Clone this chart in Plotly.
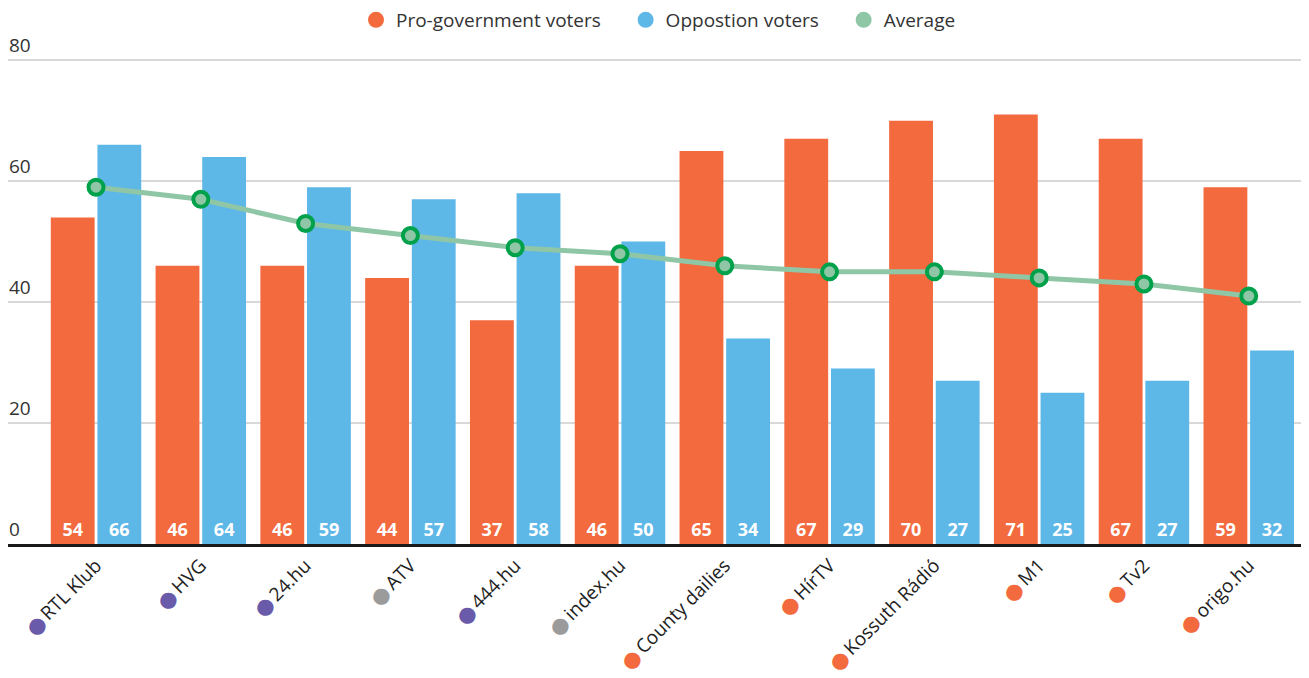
import plotly.graph_objects as go

categories = ["RTL Klub", "HVG", "24.hu", "ATV", "444.hu", "index.hu",
              "County dailies", "HírTV", "Kossuth Rádió", "M1", "Tv2", "origo.hu"]
dot_colors = ["#6A5BAA", "#6A5BAA", "#6A5BAA", "#9B9B9B", "#6A5BAA", "#9B9B9B",
              "#F26A3D", "#F26A3D", "#F26A3D", "#F26A3D", "#F26A3D", "#F26A3D"]
pro_gov = [54, 46, 46, 44, 37, 46, 65, 67, 70, 71, 67, 59]
opposition = [66, 64, 59, 57, 58, 50, 34, 29, 27, 25, 27, 32]
average = [59, 57, 53, 51, 49, 48, 46, 45, 45, 44, 43, 41]
y_ticks = [0, 20, 40, 60, 80]

ORANGE = "#F26A3D"
BLUE = "#5DB7E7"
GREEN_LINE = "#8FC7A6"
GREEN_DARK = "#00A14B"
FONT = "Open Sans"

ticktext = [f'<span style="color:{c};font-size:16px">⬤</span>\u2009{n}'
            for n, c in zip(categories, dot_colors)]

fig = go.Figure()
fig.add_trace(go.Bar(
    x=categories, y=pro_gov, marker_color=ORANGE, marker_line_width=0,
    text=pro_gov, textposition="inside", insidetextanchor="start", textangle=0,
    textfont=dict(color="white", size=18, family=FONT, weight="bold"),
    showlegend=False))
fig.add_trace(go.Bar(
    x=categories, y=opposition, marker_color=BLUE, marker_line_width=0,
    text=opposition, textposition="inside", insidetextanchor="start", textangle=0,
    textfont=dict(color="white", size=18, family=FONT, weight="bold"),
    showlegend=False))
fig.add_trace(go.Scatter(
    x=categories, y=average, mode="lines+markers",
    line=dict(color=GREEN_LINE, width=5),
    marker=dict(size=15, color=GREEN_LINE, line=dict(color=GREEN_DARK, width=4)),
    showlegend=False))

# legend entries (circle icons)
NB = "\u00a0"
for name, col in [("Pro-government voters" + NB * 4, ORANGE),
                  ("Oppostion voters" + NB * 4, BLUE),
                  ("Average", GREEN_LINE)]:
    fig.add_trace(go.Scatter(x=[None], y=[None], mode="markers", name=name,
                             marker=dict(size=21, color=col, symbol="circle")))

# y tick labels placed above their gridlines at the left edge
for v in y_ticks:
    fig.add_annotation(x=0, xref="paper", xanchor="left", y=v, yref="y",
                       yanchor="bottom", text=str(v), showarrow=False,
                       font=dict(size=19, color="#333", family=FONT), xshift=-1, yshift=0)

W, H = 1301, 670  # page body has an 8px margin
fig.update_layout(
    width=W, height=H,
    margin=dict(l=0, r=0, t=28, b=134, autoexpand=False),
    paper_bgcolor="white", plot_bgcolor="white",
    barmode="group", bargap=0.11, bargroupgap=0.06,
    font=dict(family=FONT, size=18, color="#222"),
    legend=dict(orientation="h", x=0.5, xanchor="center", y=1 - 12 / H, yanchor="middle",
                yref="container", font=dict(size=19, color="#333"), itemwidth=30,
                traceorder="normal"),
    xaxis=dict(type="category", range=[-0.84, 11.575], tickmode="array",
               tickvals=categories, ticktext=ticktext, tickangle=-45,
               showline=True, linecolor="#1a1a1a", linewidth=3, ticks="",
               tickfont=dict(size=19, color="#222", family=FONT), showgrid=False,
               automargin=False),
    yaxis=dict(range=[0, 84], tickvals=y_ticks, showgrid=True,
               gridcolor="#d9d9d9", gridwidth=2, zeroline=False,
               showticklabels=False, showline=False, ticks="", automargin=False),
)

fig.write_html("out.html")
